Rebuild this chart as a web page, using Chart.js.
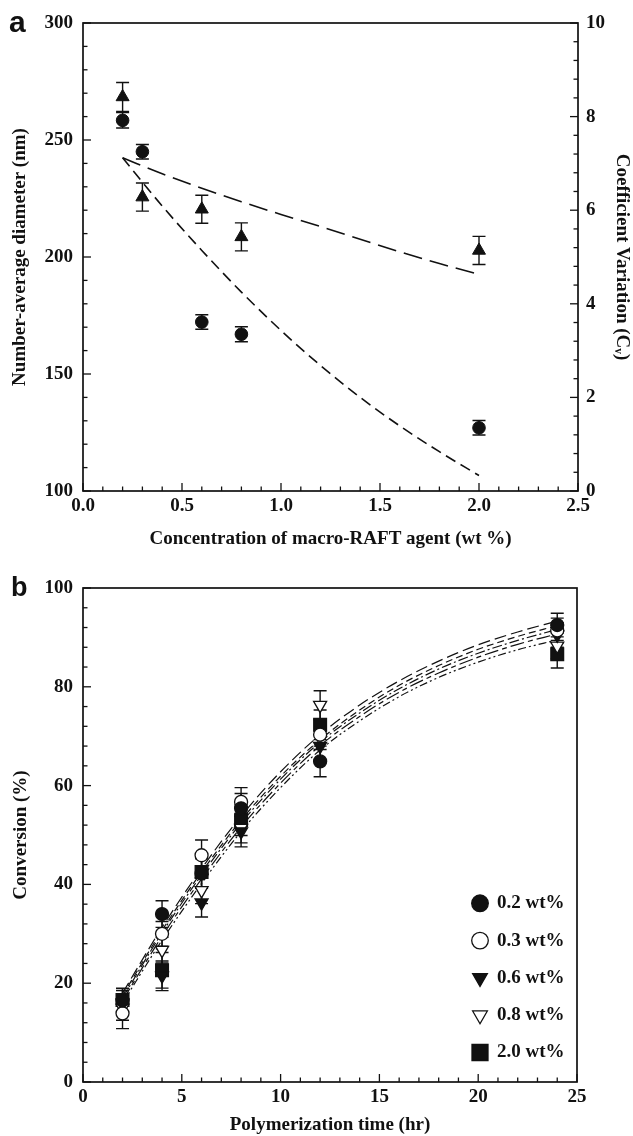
<!DOCTYPE html>
<html lang="en">
<head>
  <meta charset="utf-8">
  <title>Macro-RAFT agent: particle size and conversion</title>
  <script src="https://cdn.jsdelivr.net/npm/chart.js@4.4.1/dist/chart.umd.min.js"></script>
  <style>
    body { margin: 0; background: #fff; }
    .panel { position: absolute; left: 0; }
    #panelA { top: 0; }
    #panelB { top: 555px; }
  </style>
</head>
<body>
  <div class="panel" id="panelA"><canvas id="chartA" width="633" height="555"></canvas></div>
  <div class="panel" id="panelB"><canvas id="chartB" width="633" height="581"></canvas></div>

<script>
// ---- panel a : particle size vs macro-RAFT concentration ----
const conc = [0.2, 0.3, 0.6, 0.8, 2.0];
const diameter = [258.4, 245.0, 172.2, 167.0, 127.0];
const diameterErr = [3.3, 3.1, 3.1, 3.2, 3.1];
const cv = [8.42, 6.28, 6.02, 5.43, 5.14];
const cvErr = [0.31, 0.30, 0.30, 0.30, 0.30];

// fitted curves
const fitConc = [0.2, 0.4, 0.6, 0.8, 1.0, 1.2, 1.4, 1.6, 1.8, 2.0];
const diameterFit = [242.4, 221.8, 202.8, 185.0, 168.6, 153.6, 140.0, 127.8, 116.8, 106.6];
const cvFit = [7.12, 6.78, 6.47, 6.18, 5.91, 5.65, 5.38, 5.11, 4.86, 4.63];

// ---- panel b : conversion vs polymerization time ----
const time = [2, 4, 6, 8, 12, 24];
const conv02 = [16.5, 34.0, 42.2, 55.4, 64.9, 92.5];
const conv03 = [13.9, 30.0, 45.9, 56.7, 70.3, 91.4];
const conv06 = [16.0, 21.5, 36.3, 50.7, 68.0, 90.5];
const conv08 = [15.0, 26.7, 38.8, 51.4, 76.3, 88.3];
const conv20 = [16.6, 22.6, 42.5, 53.0, 72.3, 86.6];
const err02 = [2.5, 2.7, 3.0, 3.0, 3.1, 2.4];
const err03 = [3.1, 2.5, 3.1, 2.9, 3.0, 2.5];
const err06 = [2.5, 3.0, 2.9, 3.1, 3.0, 2.5];
const err08 = [2.5, 2.6, 2.7, 3.0, 2.9, 2.6];
const err20 = [2.3, 3.6, 3.0, 3.1, 3.0, 2.8];

const fitTime = [2, 4, 6, 8, 10, 12, 14, 16, 18, 20, 22, 24];
const fit02 = [18.0, 31.3, 43.2, 53.8, 62.8, 70.3, 76.3, 81.2, 85.2, 88.5, 91.1, 93.3];
const fit03 = [17.5, 30.7, 42.5, 53.0, 61.9, 69.3, 75.3, 80.3, 84.3, 87.6, 90.2, 92.4];
const fit06 = [17.0, 30.2, 41.9, 52.4, 61.3, 68.8, 74.7, 79.6, 83.6, 86.8, 89.4, 91.6];
const fit08 = [16.5, 29.5, 41.1, 51.6, 60.5, 68.1, 74.0, 78.9, 82.8, 86.0, 88.6, 90.7];
const fit20 = [16.0, 28.7, 40.2, 50.7, 59.6, 67.2, 73.1, 78.0, 81.9, 85.0, 87.5, 89.5];


const SERIF = "'Liberation Serif', 'Times New Roman', serif";
const INK = '#111';

Chart.defaults.font.family = SERIF;
Chart.defaults.font.weight = 'bold';
Chart.defaults.font.size = 19;
Chart.defaults.color = INK;

function pts(xs, ys) {
  return xs.map((x, i) => ({ x: x, y: ys[i] }));
}

function isMultiple(v, step) {
  return Math.abs(v / step - Math.round(v / step)) < 1e-6;
}

function drawMarker(ctx, style, rot, x, y, r, fill) {
  ctx.save();
  ctx.translate(x, y);
  ctx.rotate(rot * Math.PI / 180);
  ctx.beginPath();
  if (style === 'circle') {
    ctx.arc(0, 0, r, 0, 2 * Math.PI);
  } else if (style === 'triangle') {
    ctx.moveTo(0, -r);
    ctx.lineTo(r * 0.866, r * 0.5);
    ctx.lineTo(-r * 0.866, r * 0.5);
    ctx.closePath();
  } else {
    ctx.rect(-r * 0.707, -r * 0.707, r * 1.414, r * 1.414);
  }
  ctx.fillStyle = fill;
  ctx.fill();
  ctx.lineWidth = 1.3;
  ctx.strokeStyle = INK;
  ctx.stroke();
  ctx.restore();
}

/* error bars, boxed frame with inward ticks, panel letter and inset legend */
const paperPlugin = {
  id: 'paper',
  beforeDatasetsDraw(chart) {
    const ctx = chart.ctx;
    chart.data.datasets.forEach((ds, i) => {
      if (!ds.errors) return;
      const meta = chart.getDatasetMeta(i);
      const ys = chart.scales[meta.yAxisID];
      ctx.save();
      ctx.strokeStyle = INK;
      ctx.lineWidth = 1.4;
      ds.data.forEach((p, j) => {
        const x = meta.data[j].x;
        const top = ys.getPixelForValue(p.y + ds.errors[j]);
        const bot = ys.getPixelForValue(p.y - ds.errors[j]);
        ctx.beginPath();
        ctx.moveTo(x, top); ctx.lineTo(x, bot);
        ctx.moveTo(x - 6.5, top); ctx.lineTo(x + 6.5, top);
        ctx.moveTo(x - 6.5, bot); ctx.lineTo(x + 6.5, bot);
        ctx.stroke();
      });
      ctx.restore();
    });
  },
  afterDraw(chart, args, opts) {
    const ctx = chart.ctx;
    const a = chart.chartArea;
    ctx.save();
    ctx.strokeStyle = INK;
    ctx.lineWidth = 1.7;
    ctx.strokeRect(a.left, a.top, a.right - a.left, a.bottom - a.top);

    ctx.lineWidth = 1.3;
    Object.values(chart.scales).forEach(s => {
      s.ticks.forEach(t => {
        const len = t.label !== '' ? 8 : 4.5;
        const p = s.getPixelForValue(t.value);
        ctx.beginPath();
        if (s.position === 'bottom') {
          ctx.moveTo(p, a.bottom); ctx.lineTo(p, a.bottom - len);
        } else if (s.position === 'left') {
          ctx.moveTo(a.left, p); ctx.lineTo(a.left + len, p);
        } else {
          ctx.moveTo(a.right, p); ctx.lineTo(a.right - len, p);
        }
        ctx.stroke();
      });
    });

    ctx.fillStyle = INK;
    ctx.font = 'bold ' + opts.letterSize + "px 'Liberation Sans', Arial, sans-serif";
    ctx.textBaseline = 'alphabetic';
    ctx.textAlign = 'left';
    ctx.fillText(opts.letter, opts.letterX, opts.letterY);

    if (opts.legend) {
      let y = a.bottom - opts.legend.fromBottom;
      chart.data.datasets.filter(ds => ds.inLegend).forEach(ds => {
        drawMarker(ctx, ds.pointStyle, ds.pointRotation || 0, a.right - 97, y, ds.legendRadius, ds.backgroundColor);
        ctx.fillStyle = INK;
        ctx.font = 'bold 19px ' + SERIF;
        ctx.textBaseline = 'middle';
        ctx.fillText(ds.label, a.right - 80, y);
        y += opts.legend.spacing;
      });
    }
    ctx.restore();
  }
};

const plainGrid = { display: false, drawTicks: false };
const noBorder = { display: false };

// ---------- chart a ----------
new Chart(document.getElementById('chartA'), {
  type: 'scatter',
  data: {
    datasets: [
      {
        label: 'Number-average diameter',
        data: pts(conc, diameter),
        errors: diameterErr,
        yAxisID: 'y',
        pointStyle: 'circle',
        pointRadius: 6.3,
        backgroundColor: INK,
        borderColor: INK,
        borderWidth: 1
      },
      {
        label: 'Coefficient variation',
        data: pts(conc, cv),
        errors: cvErr,
        yAxisID: 'y2',
        pointStyle: 'triangle',
        pointRadius: 7.5,
        backgroundColor: INK,
        borderColor: INK,
        borderWidth: 1
      },
      {
        label: 'Diameter fit',
        data: pts(fitConc, diameterFit),
        yAxisID: 'y',
        showLine: true,
        pointRadius: 0,
        borderColor: INK,
        borderWidth: 1.6,
        borderDash: [11, 6],
        cubicInterpolationMode: 'monotone',
        fill: false
      },
      {
        label: 'Cv fit',
        data: pts(fitConc, cvFit),
        yAxisID: 'y2',
        showLine: true,
        pointRadius: 0,
        borderColor: INK,
        borderWidth: 1.6,
        borderDash: [19, 8],
        cubicInterpolationMode: 'monotone',
        fill: false
      }
    ]
  },
  options: {
    responsive: false,
    animation: false,
    devicePixelRatio: 1,
    events: [],
    layout: { padding: { top: 23, right: 0, bottom: 0, left: 0 } },
    plugins: {
      legend: { display: false },
      tooltip: { enabled: false },
      paper: { letter: 'a', letterSize: 30, letterX: 9, letterY: 32 }
    },
    scales: {
      x: {
        type: 'linear',
        position: 'bottom',
        min: 0, max: 2.5,
        grid: plainGrid, border: noBorder,
        ticks: {
          stepSize: 0.1, maxTicksLimit: 1000, autoSkip: false,
          maxRotation: 0, minRotation: 0, padding: 4,
          callback: v => isMultiple(v, 0.5) ? v.toFixed(1) : ''
        },
        title: { display: true, text: 'Concentration of macro-RAFT agent (wt %)', padding: { top: 0, bottom: 4.6 } },
        afterFit: s => { s.height = 64; }
      },
      y: {
        type: 'linear',
        position: 'left',
        min: 100, max: 300,
        grid: plainGrid, border: noBorder,
        ticks: {
          stepSize: 10, maxTicksLimit: 1000, autoSkip: false, padding: 10,
          callback: v => isMultiple(v, 50) ? String(v) : ''
        },
        title: { display: true, text: 'Number-average diameter (nm)', padding: { top: 8.6, bottom: 0 } },
        afterFit: s => { s.width = 83; }
      },
      y2: {
        type: 'linear',
        position: 'right',
        min: 0, max: 10,
        grid: plainGrid, border: noBorder,
        ticks: {
          stepSize: 0.4, maxTicksLimit: 1000, autoSkip: false, padding: 8,
          callback: v => isMultiple(v, 2) ? String(Math.round(v)) : ''
        },
        title: { display: true, text: 'Coefficient Variation (C\u1D65)', padding: { top: 0, bottom: 0 } },
        afterFit: s => { s.width = 55; }
      }
    }
  },
  plugins: [paperPlugin]
});

// ---------- chart b ----------
function markerSet(label, ys, errs, style, rot, fill, radius, legendRadius) {
  return {
    label: label,
    data: pts(time, ys),
    errors: errs,
    inLegend: true,
    pointStyle: style,
    pointRotation: rot,
    pointRadius: radius,
    legendRadius: legendRadius,
    backgroundColor: fill,
    borderColor: INK,
    borderWidth: 1.3
  };
}

function fitSet(label, ys, dash) {
  return {
    label: label,
    data: pts(fitTime, ys),
    showLine: true,
    pointRadius: 0,
    borderColor: INK,
    borderWidth: 1.2,
    borderDash: dash,
    cubicInterpolationMode: 'monotone',
    fill: false
  };
}

new Chart(document.getElementById('chartB'), {
  type: 'scatter',
  data: {
    datasets: [
      markerSet('0.2 wt%', conv02, err02, 'circle', 0, INK, 6.5, 8.3),
      markerSet('0.3 wt%', conv03, err03, 'circle', 0, '#fff', 6.5, 8.3),
      markerSet('0.6 wt%', conv06, err06, 'triangle', 180, INK, 7.5, 8.5),
      markerSet('0.8 wt%', conv08, err08, 'triangle', 180, '#fff', 7.5, 8.5),
      markerSet('2.0 wt%', conv20, err20, 'rect', 0, INK, 9, 11.3),
      fitSet('fit 0.2', fit02, [12, 5]),
      fitSet('fit 0.3', fit03, [7, 4]),
      fitSet('fit 0.6', fit06, [10, 3, 2, 3]),
      fitSet('fit 0.8', fit08, [14, 4, 5, 4]),
      fitSet('fit 2.0', fit20, [8, 3, 2, 3, 2, 3])
    ]
  },
  options: {
    responsive: false,
    animation: false,
    devicePixelRatio: 1,
    events: [],
    layout: { padding: { top: 33, right: 56, bottom: 0, left: 0 } },
    plugins: {
      legend: { display: false },
      tooltip: { enabled: false },
      paper: {
        letter: 'b', letterSize: 27, letterX: 11, letterY: 41,
        legend: { fromBottom: 178.7, spacing: 37.3 }
      }
    },
    scales: {
      x: {
        type: 'linear',
        position: 'bottom',
        min: 0, max: 25,
        grid: plainGrid, border: noBorder,
        ticks: {
          stepSize: 1, maxTicksLimit: 1000, autoSkip: false,
          maxRotation: 0, minRotation: 0, padding: 3.5,
          callback: v => isMultiple(v, 5) ? String(v) : ''
        },
        title: { display: true, text: 'Polymerization time (hr)', padding: { top: 0, bottom: 0 } },
        afterFit: s => { s.height = 54; }
      },
      y: {
        type: 'linear',
        position: 'left',
        min: 0, max: 100,
        grid: plainGrid, border: noBorder,
        ticks: {
          stepSize: 4, maxTicksLimit: 1000, autoSkip: false, padding: 10,
          callback: v => isMultiple(v, 20) ? String(v) : ''
        },
        title: { display: true, text: 'Conversion (%)', padding: { top: 9.6, bottom: 0 } },
        afterFit: s => { s.width = 83; }
      }
    }
  },
  plugins: [paperPlugin]
});
</script>
</body>
</html>
